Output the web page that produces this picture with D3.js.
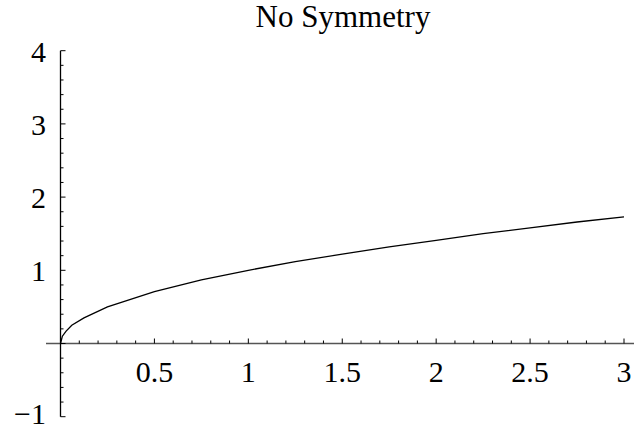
<!DOCTYPE html>
<html>
<head>
<meta charset="UTF-8">
<script src="https://cdn.jsdelivr.net/npm/d3@7"></script>
<style>
body { margin:0; background:#fff; }
text { font-family:"Liberation Serif", "DejaVu Serif", serif; fill:#000; }
</style>
</head>
<body>
<div id="chart"></div>
<script>
// values
var xs = [0, 0.01, 0.03, 0.06, 0.125, 0.25, 0.5, 0.75, 1, 1.25, 1.5, 1.75, 2, 2.25, 2.5, 2.75, 3];
var ys = [0, 0.1, 0.17, 0.25, 0.35, 0.5, 0.71, 0.87, 1, 1.12, 1.22, 1.32, 1.41, 1.5, 1.58, 1.66, 1.73];
var xTicks = [0.5, 1, 1.5, 2, 2.5, 3];
var yTicks = [-1, 1, 2, 3, 4];
var title = "No Symmetry";

var width = 634, height = 427;

var x = d3.scaleLinear().domain([0, 3]).range([60.5, 624]);
var y = d3.scaleLinear().domain([-1, 4]).range([416.7, 50.7]);

var svg = d3.select("#chart").append("svg")
  .attr("width", width).attr("height", height);

// x axis line + ticks (pointing up)
svg.append("line")
  .attr("x1", 46).attr("x2", 634)
  .attr("y1", y(0)).attr("y2", y(0))
  .attr("stroke", "#555").attr("stroke-width", 1.3);

var xMinor = d3.range(1, 31).map(function(i){ return i / 10; });
svg.selectAll(".xt").data(xMinor).enter().append("line")
  .attr("x1", function(d){ return x(d); }).attr("x2", function(d){ return x(d); })
  .attr("y1", y(0))
  .attr("y2", function(d){ return y(0) - (Math.abs(d * 2 - Math.round(d * 2)) < 1e-6 ? 5 : 3); })
  .attr("stroke", "#000").attr("stroke-width", 1);

svg.selectAll(".xl").data(xTicks).enter().append("text")
  .attr("x", function(d){ return x(d); })
  .attr("y", y(0) + 38)
  .attr("text-anchor", "middle")
  .attr("font-size", "30px")
  .text(function(d){ return d; });

// y axis line + ticks (pointing right)
svg.append("line")
  .attr("x1", x(0)).attr("x2", x(0))
  .attr("y1", y(4)).attr("y2", y(-1))
  .attr("stroke", "#000").attr("stroke-width", 1.3);

var yMinor = d3.range(-5, 21).map(function(i){ return i / 5; });
svg.selectAll(".yt").data(yMinor).enter().append("line")
  .attr("x1", x(0))
  .attr("x2", function(d){ return x(0) + (Math.abs(d - Math.round(d)) < 1e-6 ? 5 : 3); })
  .attr("y1", function(d){ return y(d); }).attr("y2", function(d){ return y(d); })
  .attr("stroke", "#000").attr("stroke-width", 1);

svg.selectAll(".yl").data(yTicks).enter().append("text")
  .attr("x", 46)
  .attr("y", function(d){ return y(d) + (d < 0 ? 7 : 11); })
  .attr("text-anchor", "end")
  .attr("font-size", "30px")
  .text(function(d){ return d < 0 ? "\u2212" + Math.abs(d) : d; });

// curve
var line = d3.line()
  .x(function(d){ return x(d[0]); })
  .y(function(d){ return y(d[1]); });

svg.append("path")
  .attr("d", line(d3.zip(xs, ys)))
  .attr("fill", "none")
  .attr("stroke", "#000")
  .attr("stroke-width", 1.3);

svg.append("text")
  .attr("x", 343).attr("y", 27)
  .attr("text-anchor", "middle")
  .attr("font-size", "31px")
  .text(title);
</script>
</body>
</html>
